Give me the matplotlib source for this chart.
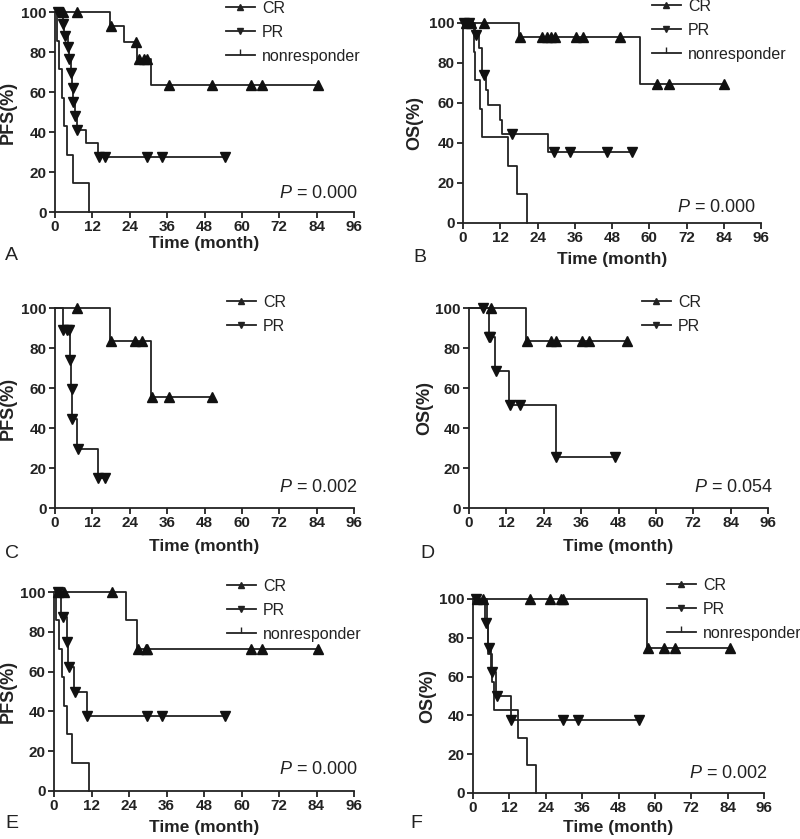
import numpy as np
import matplotlib
matplotlib.use("Agg")
import matplotlib.pyplot as plt
from matplotlib.lines import Line2D

plt.rcParams["font.family"] = ["Liberation Sans", "DejaVu Sans"]
plt.rcParams["mathtext.fontset"] = "custom"
plt.rcParams["mathtext.it"] = "Liberation Sans:italic"
plt.rcParams["mathtext.rm"] = "Liberation Sans"

# step curves: change times (months) and survival levels (%), plus censor times
# A: PFS, all patients
A_CR_t = [0, 17.7, 22.3, 26.2, 30.8]
A_CR_s = [100, 92.9, 85.0, 76.5, 63.6]
A_CR_c = [2.5, 7.0, 18.0, 26.0, 27.0, 28.5, 29.4, 36.6, 50.5, 62.8, 66.6, 84.5]
A_PR_t = [0, 2.6, 3.0, 4.1, 4.5, 5.0, 5.6, 5.8, 6.4, 7.0, 10.0, 13.7]
A_PR_s = [100, 94.1, 88.2, 82.4, 76.5, 69.4, 62.0, 55.0, 48.0, 41.2, 34.3, 27.4]
A_PR_c = [1.0, 2.7, 3.1, 4.2, 4.6, 5.1, 5.7, 5.9, 6.5, 7.1, 14.0, 16.0, 29.6, 34.5, 54.6]
A_NR_t = [0, 0.5, 1.4, 2.2, 3.0, 3.7, 5.7, 11.0]
A_NR_s = [100, 85.7, 71.4, 57.1, 42.9, 28.6, 14.3, 0]
A_NR_c = []

# B: OS, all patients
B_CR_t = [0, 17.9, 56.9]
B_CR_s = [100, 92.9, 69.6]
B_CR_c = [1.0, 2.6, 6.7, 18.4, 25.5, 27.0, 28.2, 29.5, 36.5, 38.5, 50.5, 62.5, 66.5, 84.2]
B_PR_t = [0, 4.0, 5.2, 6.1, 7.5, 8.0, 12.0, 12.6, 27.3]
B_PR_s = [100, 94.1, 87.5, 73.8, 66.4, 59.0, 51.6, 44.3, 35.4]
B_PR_c = [0.4, 1.8, 4.1, 6.7, 15.9, 29.2, 34.4, 46.4, 54.4]
B_NR_t = [0, 3.7, 4.0, 5.6, 6.2, 14.4, 17.4, 20.7]
B_NR_s = [100, 85.7, 71.4, 57.1, 42.9, 28.6, 14.3, 0]
B_NR_c = []

# C: PFS, subgroup
C_CR_t = [0, 17.7, 30.8]
C_CR_s = [100, 83.3, 55.6]
C_CR_c = [7.0, 17.9, 25.8, 27.8, 31.0, 36.6, 50.5]
C_PR_t = [0, 2.5, 4.8, 5.2, 5.4, 7.2, 13.8]
C_PR_s = [100, 88.9, 74.1, 59.3, 44.4, 29.6, 14.8]
C_PR_c = [2.6, 3.8, 4.6, 4.9, 5.3, 5.5, 7.3, 13.9, 16.2]

# D: OS, subgroup
D_CR_t = [0, 18.4]
D_CR_s = [100, 83.3]
D_CR_c = [7.0, 18.5, 26.4, 28.0, 36.4, 38.4, 50.8]
D_PR_t = [0, 6.4, 8.5, 13.0, 27.8]
D_PR_s = [100, 85.7, 68.6, 51.4, 25.7]
D_PR_c = [4.5, 6.5, 6.9, 8.7, 13.3, 16.3, 28.0, 46.8]

# E: PFS, second cohort
E_CR_t = [0, 22.9, 26.6]
E_CR_s = [100, 85.7, 71.4]
E_CR_c = [1.3, 3.1, 18.6, 27.0, 29.3, 29.8, 62.9, 66.6, 84.6]
E_PR_t = [0, 2.1, 4.0, 4.6, 6.3, 10.4]
E_PR_s = [100, 87.5, 75.0, 62.5, 50.0, 37.5]
E_PR_c = [1.3, 2.8, 4.3, 4.8, 6.6, 10.5, 29.8, 34.6, 54.7]
E_NR_t = [0, 0.75, 1.6, 2.5, 3.1, 4.0, 5.9, 11.2]
E_NR_s = [100, 85.7, 71.4, 57.1, 42.9, 28.6, 14.3, 0]
E_NR_c = []

# F: OS, second cohort
F_CR_t = [0, 57.5]
F_CR_s = [100, 75.0]
F_CR_c = [1.3, 3.3, 18.7, 25.5, 29.1, 29.7, 57.7, 63.0, 66.5, 84.7]
F_PR_t = [0, 4.1, 5.0, 6.0, 7.7, 12.6]
F_PR_s = [100, 87.5, 75.0, 62.5, 50.0, 37.5]
F_PR_c = [1.1, 4.3, 5.3, 6.2, 7.8, 12.7, 29.7, 34.6, 54.7]
F_NR_t = [0, 4.5, 5.0, 6.2, 6.8, 14.8, 17.8, 20.9]
F_NR_s = [100, 85.7, 71.4, 57.1, 42.9, 28.6, 14.3, 0]
F_NR_c = []

P_TEXT = {"A": "0.000", "B": "0.000", "C": "0.002", "D": "0.054", "E": "0.000", "F": "0.002"}
YLAB = {"A": "PFS(%)", "B": "OS(%)", "C": "PFS(%)", "D": "OS(%)", "E": "PFS(%)", "F": "OS(%)"}

W, H = 800, 839
# axes boxes in pixels: left, top, right, bottom
BOX = {"A": (55, 12, 354, 212), "B": (463, 23, 761, 223),
       "C": (55, 308, 354, 508), "D": (469, 308, 768, 508),
       "E": (54, 592, 354, 791), "F": (473, 599, 764, 793)}
LEG = {"A": (226, 1), "B": (652, -1), "C": (227, 295), "D": (642, 295), "E": (227, 579), "F": (667, 578)}
LETTER = {"A": (5, 255), "B": (413, 257), "C": (5, 553), "D": (420, 553), "E": (5, 823), "F": (410, 823)}
YLAB_X = {"A": 9, "B": 415, "C": 9, "D": 425, "E": 9, "F": 428}
XLAB_Y = {"A": 236, "B": 252, "C": 539, "D": 539, "E": 820, "F": 820}
P_POS = {"A": (358, 193), "B": (756, 207), "C": (358, 487), "D": (773, 487), "E": (358, 770), "F": (768, 773)}

CURVES = {
    "A": [(A_CR_t, A_CR_s, A_CR_c, "^"), (A_PR_t, A_PR_s, A_PR_c, "v"), (A_NR_t, A_NR_s, A_NR_c, None)],
    "B": [(B_CR_t, B_CR_s, B_CR_c, "^"), (B_PR_t, B_PR_s, B_PR_c, "v"), (B_NR_t, B_NR_s, B_NR_c, None)],
    "C": [(C_CR_t, C_CR_s, C_CR_c, "^"), (C_PR_t, C_PR_s, C_PR_c, "v")],
    "D": [(D_CR_t, D_CR_s, D_CR_c, "^"), (D_PR_t, D_PR_s, D_PR_c, "v")],
    "E": [(E_CR_t, E_CR_s, E_CR_c, "^"), (E_PR_t, E_PR_s, E_PR_c, "v"), (E_NR_t, E_NR_s, E_NR_c, None)],
    "F": [(F_CR_t, F_CR_s, F_CR_c, "^"), (F_PR_t, F_PR_s, F_PR_c, "v"), (F_NR_t, F_NR_s, F_NR_c, None)],
}

LW = 1.3
MS = 7

def km(ax, t, s, cens, marker):
    t = np.asarray(t, float)
    s = np.asarray(s, float)
    end = max([t[-1]] + list(cens))
    ax.step(np.append(t, end), np.append(s, s[-1]), where="post", color="#222222", lw=LW,
            clip_on=False, zorder=3)
    if cens and marker:
        idx = np.searchsorted(t, cens, side="right") - 1
        ax.plot(cens, s[idx], ls="none", marker=marker, ms=MS, color="#111111", clip_on=False, zorder=4)

fig = plt.figure(figsize=(W / 100, H / 100), dpi=100)
for key, (l, t, r, b) in BOX.items():
    ax = fig.add_axes([l / W, 1 - b / H, (r - l) / W, (b - t) / H])
    for t_, s_, c_, m_ in CURVES[key]:
        km(ax, t_, s_, c_, m_)
    ax.set_xlim(0, 96)
    ax.set_ylim(0, 100)
    ax.set_xticks(range(0, 97, 12))
    ax.set_yticks(range(0, 101, 20))
    for sp in ("top", "right"):
        ax.spines[sp].set_visible(False)
    for sp in ("left", "bottom"):
        ax.spines[sp].set_linewidth(LW)
        ax.spines[sp].set_color("#222222")
    ax.tick_params(direction="out", length=4, width=LW, labelsize=11, pad=2, colors="#222222")
    for lab in ax.get_xticklabels() + ax.get_yticklabels():
        lab.set_fontweight("bold")
    w, h = r - l, b - t
    ax.set_xlabel("Time (month)", fontsize=12.5, fontweight="bold", color="#222222")
    ax.xaxis.set_label_coords(0.5, (b - XLAB_Y[key]) / h)
    ax.set_ylabel(YLAB[key], fontsize=13, fontweight="bold", color="#222222")
    ax.yaxis.set_label_coords((YLAB_X[key] + 8 - l) / w, 0.5)
    px, py = P_POS[key]
    ax.text((px - l) / w, (b - py) / h, "$P$ = " + P_TEXT[key], ha="right", va="center",
            fontsize=13, color="#222222", transform=ax.transAxes)

    handles = [Line2D([], [], color="#222222", lw=LW, marker="^", ms=5),
               Line2D([], [], color="#222222", lw=LW, marker="v", ms=5)]
    labels = ["CR", "PR"]
    if len(CURVES[key]) == 3:
        handles.append(Line2D([], [], color="#222222", lw=LW, marker=2, ms=4))
        labels.append("nonresponder")
    lx, ly = LEG[key]
    ax.legend(handles, labels, loc="upper left", bbox_to_anchor=(lx / W, 1 - ly / H),
              bbox_transform=fig.transFigure, frameon=False, fontsize=11.5, numpoints=1,
              handlelength=1.8, handletextpad=0.45, labelspacing=0.55,
              borderpad=0, borderaxespad=0, labelcolor="#222222")
    fx, fy = LETTER[key]
    fig.text(fx / W, 1 - fy / H, key, fontsize=14, ha="left", va="center", color="#222222")

fig.savefig("out.png", dpi=100)
